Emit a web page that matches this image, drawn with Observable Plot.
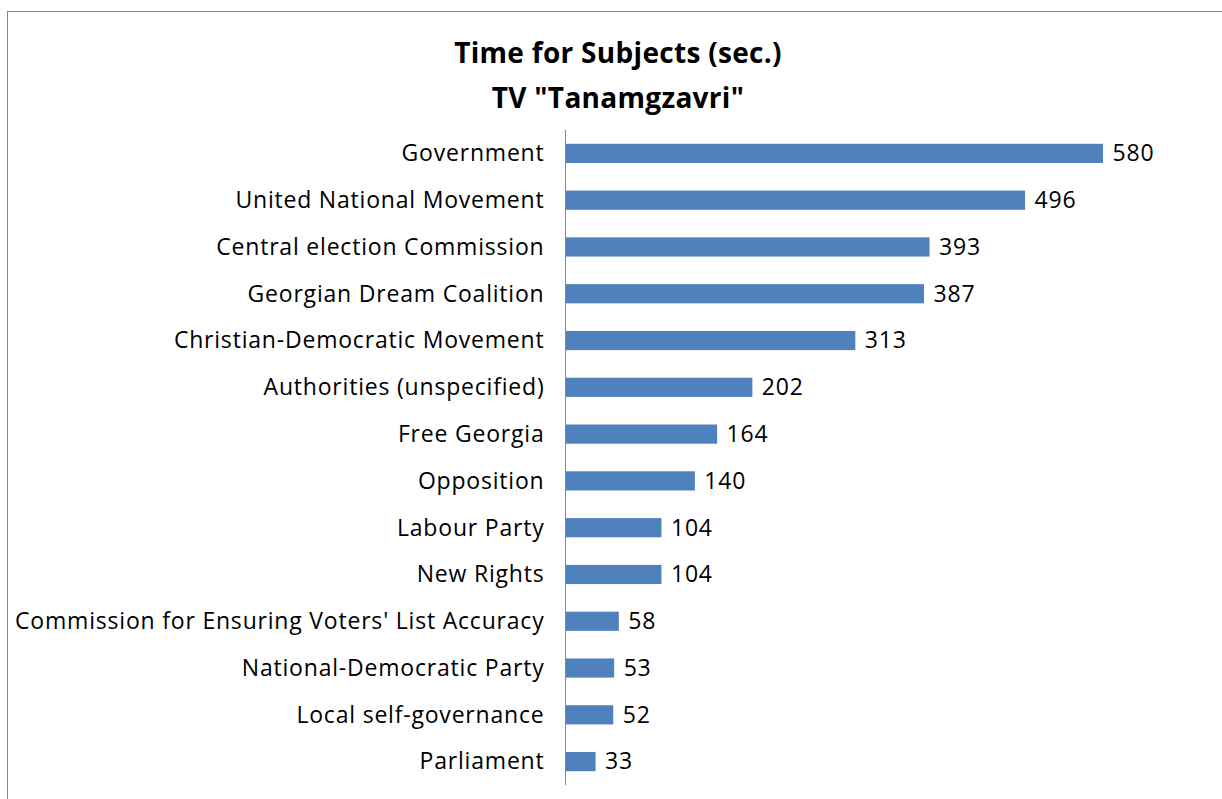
<!DOCTYPE html>
<html>
<head>
<meta charset="utf-8">
<script src="https://cdn.jsdelivr.net/npm/d3@7"></script>
<script src="https://cdn.jsdelivr.net/npm/@observablehq/plot@0.6"></script>
<style>
  html, body { margin: 0; padding: 0; background: #fff; }
  #wrap { position: relative; width: 1222px; height: 799px; overflow: hidden; background: #fff; }
  #border { position: absolute; left: 7px; top: 11px; width: 1400px; height: 1000px; border: 1px solid #868686; box-sizing: border-box; }
  #title { position: absolute; left: 0; top: 0; width: 1236px; height: 115px; text-align: center;
           font-family: "Open Sans", sans-serif; font-weight: bold; font-size: 28px; letter-spacing: 0.3px; color: #000; line-height: 38px; }
  #title .l1 { position: absolute; left: 0; right: 0; top: 33px; }
  #title .l2 { position: absolute; left: 0; right: 0; top: 78px; }
  #chart { position: absolute; left: 0; top: 115px; }
  #chart svg text { letter-spacing: 0.8px; }
</style>
</head>
<body>
<div id="wrap">
  <div id="border"></div>
  <div id="title"><div class="l1">Time for Subjects (sec.)</div><div class="l2">TV "Tanamgzavri"</div></div>
  <div id="chart"></div>
</div>
<script>
const subjects = [
  "Government",
  "United National Movement",
  "Central election Commission",
  "Georgian Dream Coalition",
  "Christian-Democratic Movement",
  "Authorities (unspecified)",
  "Free Georgia",
  "Opposition",
  "Labour Party",
  "New Rights",
  "Commission for Ensuring Voters' List Accuracy",
  "National-Democratic Party",
  "Local self-governance",
  "Parliament"
];
const seconds = [580, 496, 393, 387, 313, 202, 164, 140, 104, 104, 58, 53, 52, 33];

const data = subjects.map((s, i) => ({subject: s, value: seconds[i]}));

const chart = Plot.plot({
  width: 1222,
  height: 684,
  marginTop: 15,
  marginBottom: 14,
  marginLeft: 565,
  marginRight: 119,
  style: {fontFamily: "Open Sans, sans-serif", fontSize: "23px", color: "#000", background: "transparent"},
  x: {domain: [0, 580], axis: null},
  y: {domain: subjects, paddingInner: 0.59, paddingOuter: 0.295, round: false, label: null, tickSize: 0, tickPadding: 21},
  marks: [
    Plot.barX(data, {x: "value", y: "subject", fill: "#4f81bd"}),
    Plot.ruleX([0], {stroke: "#868686", strokeWidth: 1}),
    Plot.text(data, {x: "value", y: "subject", text: d => String(d.value), textAnchor: "start", dx: 9, fill: "#000", fontSize: 23})
  ]
});
document.getElementById("chart").appendChild(chart);
</script>
</body>
</html>
